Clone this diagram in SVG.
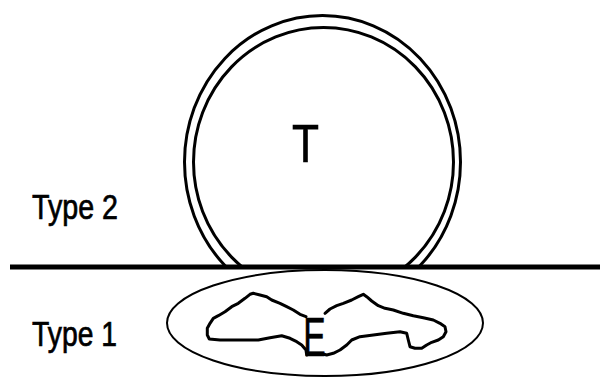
<svg xmlns="http://www.w3.org/2000/svg" width="601" height="377" viewBox="0 0 601 377">
<style>
.lbl{font-family:"Liberation Sans",Arial,sans-serif;fill:#000;stroke:#000;stroke-width:0.7}
.ring{fill:none;stroke:#000;stroke-width:3}
.thin{fill:none;stroke:#000;stroke-width:2}
.blob{fill:none;stroke:#000;stroke-width:3;stroke-linejoin:round;stroke-linecap:round}
</style>
<rect width="601" height="377" fill="#fff"/>
<g id="labels">
<text class="lbl" x="32" y="219" font-size="35" textLength="86" lengthAdjust="spacingAndGlyphs">Type 2</text>
<text class="lbl" x="32" y="346" font-size="35" textLength="85" lengthAdjust="spacingAndGlyphs">Type 1</text>
</g>
<defs>
<clipPath id="above"><rect x="0" y="0" width="601" height="267"/></clipPath>
</defs>
<g id="node-T">
<g clip-path="url(#above)">
<ellipse class="ring" cx="322.5" cy="162" rx="138" ry="146.5"/>
<ellipse class="ring" cx="323.5" cy="162" rx="130" ry="134.5"/>
</g>
<text class="lbl" x="292" y="162" font-size="53" textLength="27" lengthAdjust="spacingAndGlyphs" stroke-width="1.2">T</text>
</g>
<g id="connectors">
<line x1="10" y1="267" x2="600" y2="267" stroke="#000" stroke-width="5"/>
</g>
<g id="node-E">
<ellipse class="thin" cx="325" cy="323" rx="158" ry="53"/>
<polyline class="blob" points="306,316.7 300,314.3 293.3,310 286.7,306.7 280,303.3 271.7,300 266.7,296.7 260,295 253.3,293.3 250,294.3 245,298.3 238.3,303.3 231.7,306.7 225,311.7 218.3,315.7 213.3,318.3 210,323.3 207.3,328.3 207.3,335 209.3,339 220,340 240,340 258.3,340 270,337.7 281.7,335.7 290,338.3 296.7,341.7 301.7,345 306,350 306.7,355"/>
<polyline class="blob" points="325,313.3 330,309 336.7,305.7 343.3,303.3 351.7,300 358.3,296.7 363.3,294.3 366.7,296.7 371.7,301 378.3,305.7 385,308.3 393.3,310 403.3,313.3 413.3,315.7 423.3,317.7 433.3,320 440,323.3 445,326.7 446,331.7 443.3,336.7 438.3,340 431.7,342.3 426.7,345 421.7,348.3 415,348.3 410,346.7 408.3,340 406.7,333.3 400,331.7 386.7,333.3 373.3,335 360,336.7 351.7,340 346.7,345 340,350 333.3,353.3 326.7,355 324,354.3"/>
<text class="lbl" x="303.3" y="356" font-size="56" textLength="22.4" lengthAdjust="spacingAndGlyphs" stroke-width="1.4">E</text>
</g>
</svg>
